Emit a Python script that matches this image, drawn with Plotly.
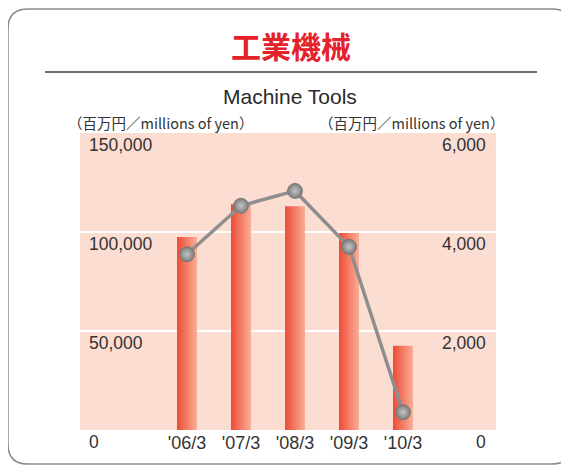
import plotly.graph_objects as go

# data
categories = ["'06/3", "'07/3", "'08/3", "'09/3", "'10/3"]
sales = [97500, 114000, 113000, 99500, 42500]       # left axis, bars
profit = [3550, 4530, 4830, 3700, 360]              # right axis, line
left_ticks = [0, 50000, 100000, 150000]
right_ticks = [0, 2000, 4000, 6000]

# the page body has an 8px margin, so the figure is drawn 8px in from the corner
OFF = 8
W, H = 569 - OFF, 465 - OFF
L, R, T, B = 80, 496, 133, 430   # plot area, in window pixels

def px(x):
    return (x - L) / (R - L)

def py(y):
    return (B - y) / (B - T)

bar_w = 20 / 54
xs = list(range(len(categories)))

fig = go.Figure()

# bars, each one a filled shape so it can carry a horizontal gradient
for i, v in enumerate(sales):
    fig.add_trace(go.Scatter(
        x=[i - bar_w / 2, i - bar_w / 2, i + bar_w / 2, i + bar_w / 2, i - bar_w / 2],
        y=[0, v, v, 0, 0],
        mode='lines',
        line=dict(width=0),
        fill='toself',
        fillgradient=dict(type='horizontal',
                          colorscale=[[0, '#EE4B35'], [1, '#F9AE98']]),
        hoverinfo='skip',
        showlegend=False,
    ))

fig.add_trace(go.Scatter(
    x=xs,
    y=profit,
    yaxis='y2',
    mode='lines+markers',
    line=dict(color='#8E8E8E', width=3.5),
    marker=dict(size=15, color='#7C7C7C',
                gradient=dict(type='radial', color='#C4C4C4'),
                line=dict(width=0.8, color='#707070')),
    showlegend=False,
))

font_num = 'Liberation Sans, Arial, sans-serif'
font_jp = 'Noto Sans CJK JP, sans-serif'

annotations = []
# y tick labels sit just under their gridline, inside the plot
for v in left_ticks:
    annotations.append(dict(x=px(87), xref='paper', xanchor='left', y=v, yref='y',
                            yanchor='middle', yshift=-12, showarrow=False,
                            text=f'{v:,}', font=dict(family=font_num, size=17.5, color='#333333')))
for v in right_ticks:
    annotations.append(dict(x=px(488), xref='paper', xanchor='right', y=v, yref='y2',
                            yanchor='middle', yshift=-12, showarrow=False,
                            text=f'{v:,}', font=dict(family=font_num, size=17.5, color='#333333')))

annotations += [
    dict(x=px(291), y=py(45), xref='paper', yref='paper', yanchor='middle', showarrow=False,
         text='<b>工業機械</b>', font=dict(family=font_jp, size=30, color='#E5222B')),
    dict(x=px(290), y=py(96), xref='paper', yref='paper', yanchor='middle', showarrow=False,
         text='Machine Tools',
         font=dict(family='Liberation Sans, Arial, sans-serif', size=21, color='#2A2A2A')),
    dict(x=px(66), y=py(123), xref='paper', yref='paper', xanchor='left', yanchor='middle',
         showarrow=False, text='（百万円／millions of yen）',
         font=dict(family=font_jp, size=14.5, color='#333333')),
    dict(x=px(506), y=py(123), xref='paper', yref='paper', xanchor='right', yanchor='middle',
         showarrow=False, text='（百万円／millions of yen）',
         font=dict(family=font_jp, size=14.5, color='#333333')),
]

r = 20
x0, y0, x1, y1 = 8, 9, 572, 464
border = (f'M {px(x0)},{py(y0 + r)} '
          f'Q {px(x0)},{py(y0)} {px(x0 + r)},{py(y0)} '
          f'L {px(x1 - r)},{py(y0)} '
          f'Q {px(x1)},{py(y0)} {px(x1)},{py(y0 + r)} '
          f'L {px(x1)},{py(y1 - r)} '
          f'Q {px(x1)},{py(y1)} {px(x1 - r)},{py(y1)} '
          f'L {px(x0 + r)},{py(y1)} '
          f'Q {px(x0)},{py(y1)} {px(x0)},{py(y1 - r)} Z')

shapes = [
    dict(type='path', path=border, xref='paper', yref='paper',
         line=dict(color='#8A8A8A', width=1.5)),
    dict(type='line', x0=px(45), x1=px(537), y0=py(72), y1=py(72),
         xref='paper', yref='paper', line=dict(color='#6E6E6E', width=2)),
]

fig.update_layout(
    width=W, height=H,
    margin=dict(l=L - OFF, r=W - (R - OFF), t=T - OFF, b=H - (B - OFF), pad=0),
    paper_bgcolor='white',
    plot_bgcolor='#FCDDD2',
    xaxis=dict(
        range=[(L - 187) / 54, (R - 187) / 54],
        tickvals=xs,
        ticktext=categories,
        showgrid=False, zeroline=False, showline=False,
        ticks='', ticklen=0,
        tickfont=dict(family=font_num, size=18, color='#333333'),
    ),
    yaxis=dict(
        range=[0, 150000],
        tickvals=[50000, 100000],
        showticklabels=False,
        showgrid=True, gridcolor='white', gridwidth=2,
        zeroline=False, showline=False,
    ),
    yaxis2=dict(
        range=[0, 6000],
        overlaying='y', side='right',
        showgrid=False, showticklabels=False,
        zeroline=False, showline=False,
    ),
    annotations=annotations,
    shapes=shapes,
    showlegend=False,
)
fig.update_xaxes(fixedrange=True)
fig.update_yaxes(fixedrange=True)

fig.write_html("out.html")
